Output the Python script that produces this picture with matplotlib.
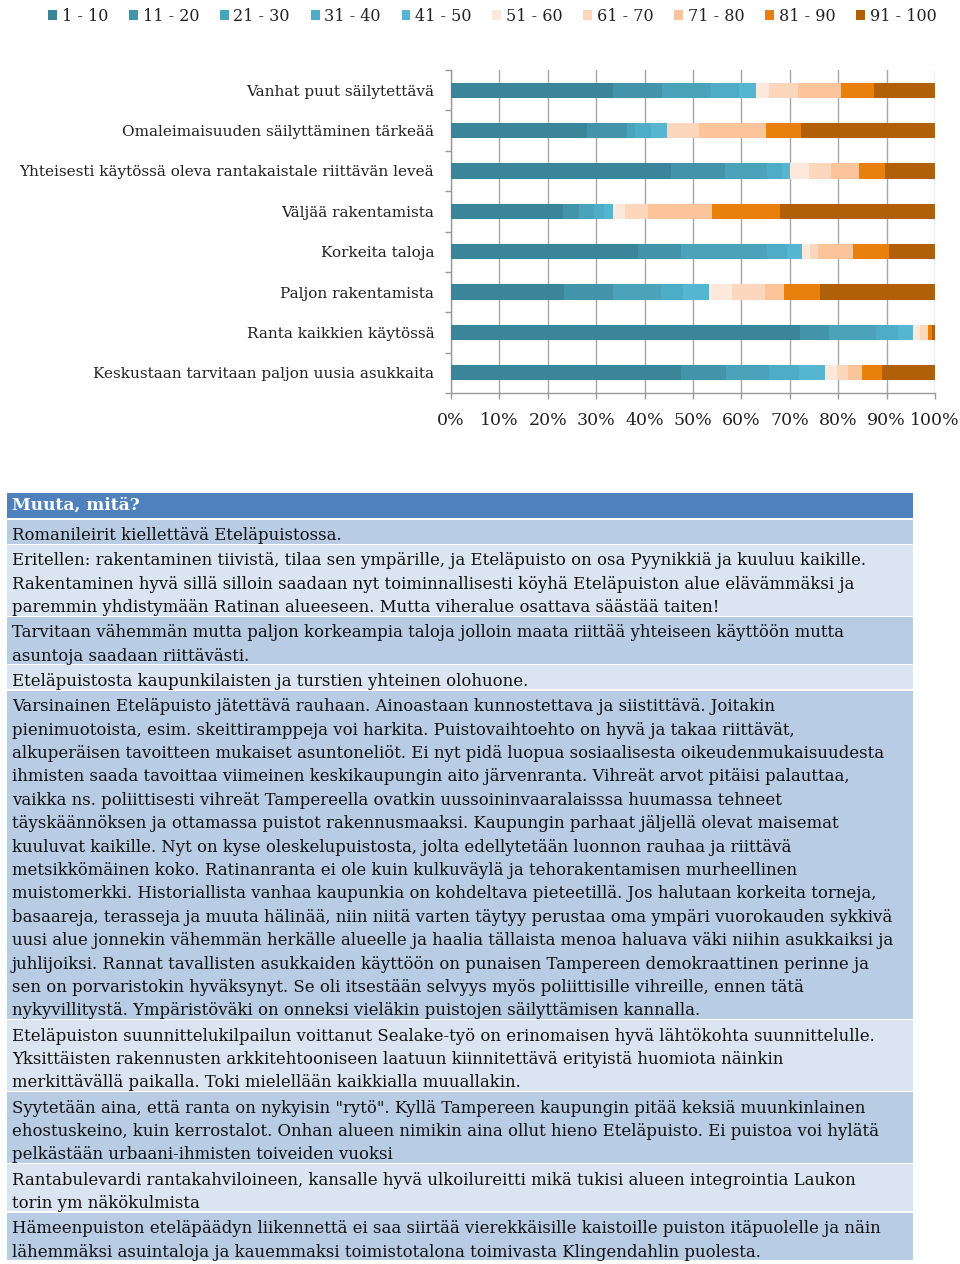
import matplotlib
matplotlib.use('Agg')
import matplotlib.pyplot as plt
from matplotlib.patches import Rectangle
from matplotlib.ticker import FixedLocator
import numpy as np

plt.rcParams['font.family'] = ['DejaVu Serif']

# ---- survey bars (top to bottom) ----
categories = [
    'Vanhat puut säilytettävä',
    'Omaleimaisuuden säilyttäminen tärkeää',
    'Yhteisesti käytössä oleva rantakaistale riittävän leveä',
    'Väljää rakentamista',
    'Korkeita taloja',
    'Paljon rakentamista',
    'Ranta kaikkien käytössä',
    'Keskustaan tarvitaan paljon uusia asukkaita',
]
bins = ['1 - 10', '11 - 20', '21 - 30', '31 - 40', '41 - 50',
        '51 - 60', '61 - 70', '71 - 80', '81 - 90', '91 - 100']

v_01_10 = [33.4, 28.2, 45.5, 23.2, 38.6, 23.4, 72.1, 47.5]
v_11_20 = [10.1, 8.2, 11.1, 3.2, 8.9, 10.0, 6.1, 9.3]
v_21_30 = [10.2, 1.6, 8.6, 3.2, 17.7, 9.9, 9.7, 8.8]
v_31_40 = [5.8, 3.3, 3.1, 2.1, 4.2, 4.6, 4.4, 6.2]
v_41_50 = [3.5, 3.3, 1.7, 1.8, 3.2, 5.5, 3.1, 5.5]
v_51_60 = [2.6, 0.0, 4.0, 2.5, 1.6, 4.7, 1.6, 2.5]
v_61_70 = [6.0, 6.6, 4.6, 4.8, 1.6, 6.8, 1.5, 2.2]
v_71_80 = [9.0, 13.8, 5.6, 13.1, 7.2, 3.8, 0.0, 2.9]
v_81_90 = [6.8, 7.3, 5.5, 14.1, 7.4, 7.5, 0.8, 4.1]
v_91_100 = [12.6, 27.7, 10.3, 32.0, 9.6, 23.8, 0.7, 11.0]
series = [v_01_10, v_11_20, v_21_30, v_31_40, v_41_50,
          v_51_60, v_61_70, v_71_80, v_81_90, v_91_100]

colors = ['#3a8599', '#4393aa', '#4aa3bb', '#4eacc6', '#56b5d1',
          '#fde9dc', '#fcd7bc', '#fbc49b', '#e9800c', '#b25f0a']

# ---- comment table ----
header = 'Muuta, mitä?'
comments = [
    ['Romanileirit kiellettävä Eteläpuistossa.'],
    ['Eritellen: rakentaminen tiivistä, tilaa sen ympärille, ja Eteläpuisto on osa Pyynikkiä ja kuuluu kaikille.',
     'Rakentaminen hyvä sillä silloin saadaan nyt toiminnallisesti köyhä Eteläpuiston alue elävämmäksi ja',
     'paremmin yhdistymään Ratinan alueeseen. Mutta viheralue osattava säästää taiten!'],
    ['Tarvitaan vähemmän mutta paljon korkeampia taloja jolloin maata riittää yhteiseen käyttöön mutta',
     'asuntoja saadaan riittävästi.'],
    ['Eteläpuistosta kaupunkilaisten ja turstien yhteinen olohuone.'],
    ['Varsinainen Eteläpuisto jätettävä rauhaan. Ainoastaan kunnostettava ja siistittävä. Joitakin',
     'pienimuotoista, esim. skeittiramppeja voi harkita. Puistovaihtoehto on hyvä ja takaa riittävät,',
     'alkuperäisen tavoitteen mukaiset asuntoneliöt. Ei nyt pidä luopua sosiaalisesta oikeudenmukaisuudesta',
     'ihmisten saada tavoittaa viimeinen keskikaupungin aito järvenranta. Vihreät arvot pitäisi palauttaa,',
     'vaikka ns. poliittisesti vihreät Tampereella ovatkin uussoininvaaralaisssa huumassa tehneet',
     'täyskäännöksen ja ottamassa puistot rakennusmaaksi. Kaupungin parhaat jäljellä olevat maisemat',
     'kuuluvat kaikille. Nyt on kyse oleskelupuistosta, jolta edellytetään luonnon rauhaa ja riittävä',
     'metsikkömäinen koko. Ratinanranta ei ole kuin kulkuväylä ja tehorakentamisen murheellinen',
     'muistomerkki. Historiallista vanhaa kaupunkia on kohdeltava pieteetillä. Jos halutaan korkeita torneja,',
     'basaareja, terasseja ja muuta hälinää, niin niitä varten täytyy perustaa oma ympäri vuorokauden sykkivä',
     'uusi alue jonnekin vähemmän herkälle alueelle ja haalia tällaista menoa haluava väki niihin asukkaiksi ja',
     'juhlijoiksi. Rannat tavallisten asukkaiden käyttöön on punaisen Tampereen demokraattinen perinne ja',
     'sen on porvaristokin hyväksynyt. Se oli itsestään selvyys myös poliittisille vihreille, ennen tätä',
     'nykyvillitystä. Ympäristöväki on onneksi vieläkin puistojen säilyttämisen kannalla.'],
    ['Eteläpuiston suunnittelukilpailun voittanut Sealake-työ on erinomaisen hyvä lähtökohta suunnittelulle.',
     'Yksittäisten rakennusten arkkitehtooniseen laatuun kiinnitettävä erityistä huomiota näinkin',
     'merkittävällä paikalla. Toki mielellään kaikkialla muuallakin.'],
    ['Syytetään aina, että ranta on nykyisin "rytö". Kyllä Tampereen kaupungin pitää keksiä muunkinlainen',
     'ehostuskeino, kuin kerrostalot. Onhan alueen nimikin aina ollut hieno Eteläpuisto. Ei puistoa voi hylätä',
     'pelkästään urbaani-ihmisten toiveiden vuoksi'],
    ['Rantabulevardi rantakahviloineen, kansalle hyvä ulkoilureitti mikä tukisi alueen integrointia Laukon',
     'torin ym näkökulmista'],
    ['Hämeenpuiston eteläpäädyn liikennettä ei saa siirtää vierekkäisille kaistoille puiston itäpuolelle ja näin',
     'lähemmäksi asuintaloja ja kauemmaksi toimistotalona toimivasta Klingendahlin puolesta.'],
]

W, H = 960, 1264
fig = plt.figure(figsize=(W / 100, H / 100), dpi=100)

# background axes in pixel coordinates for the table
bg = fig.add_axes([0, 0, 1, 1])
bg.set_xlim(0, W)
bg.set_ylim(H, 0)
bg.axis('off')

# bar chart
ax = fig.add_axes([451 / W, 1 - 393 / H, 484 / W, 323 / H])
y = np.arange(len(categories))
left = np.zeros(len(categories))
handles = []
for vals, lab, c in zip(series, bins, colors):
    b = ax.barh(y, vals, left=left, height=0.38, color=c, label=lab, zorder=3)
    handles.append(b)
    left += np.array(vals)

ax.set_xlim(0, 100)
ax.set_ylim(len(categories) - 0.5, -0.5)
ax.set_xticks(np.arange(0, 101, 10))
ax.set_xticklabels([f'{v}%' for v in range(0, 101, 10)], fontsize=12.5, color='#222222')
ax.set_yticks(y)
ax.set_yticklabels(categories, fontsize=10.95, color='#222222')
ax.yaxis.set_minor_locator(FixedLocator(np.arange(-0.5, len(categories), 1)))
ax.tick_params(axis='y', which='major', length=0, pad=12)
ax.tick_params(axis='y', which='minor', length=4, color='#9a9a9a', width=1)
ax.tick_params(axis='x', which='major', length=4, color='#9a9a9a', width=1, pad=9.5)
ax.grid(axis='x', color='#a6a6a6', linewidth=1, zorder=0)
for s in ['top', 'right']:
    ax.spines[s].set_visible(False)
for s in ['left', 'bottom']:
    ax.spines[s].set_color('#9a9a9a')
    ax.spines[s].set_linewidth(1)

fig.legend(handles=handles, labels=bins, loc='upper center', bbox_to_anchor=(0.513, 1.005),
           ncol=10, frameon=False, fontsize=11.5, handlelength=0.55, handleheight=0.6,
           handletextpad=0.3, columnspacing=1.3, labelcolor='#222222')

# fit body font size to the reference line width
fig.canvas.draw()
r = fig.canvas.get_renderer()
probe = bg.text(0, 0, comments[1][0], fontsize=10)
size = 10 * 860 / probe.get_window_extent(r).width
probe.remove()

x0, x1 = 7, 913
pitch = 23.4
pad = 0.6
gap = 1.2
shift = 2.5

# header
bg.add_patch(Rectangle((x0, 493), x1 - x0, 25, color='#4f81bd', lw=0))
bg.text(12, 505.5, header, fontsize=size * 1.03, fontweight='bold', color='white',
        va='center')

top = 519.5
for i, lines in enumerate(comments):
    h = len(lines) * pitch + pad
    col = '#b8cce4' if i % 2 == 0 else '#dbe5f1'
    bg.add_patch(Rectangle((x0, top), x1 - x0, h, color=col, lw=0))
    for k, line in enumerate(lines):
        bg.text(12, top + shift + pitch * (k + 0.5), line, fontsize=size,
                color='#111111', va='center_baseline')
    top += h + gap

fig.savefig('out.png', dpi=100)
